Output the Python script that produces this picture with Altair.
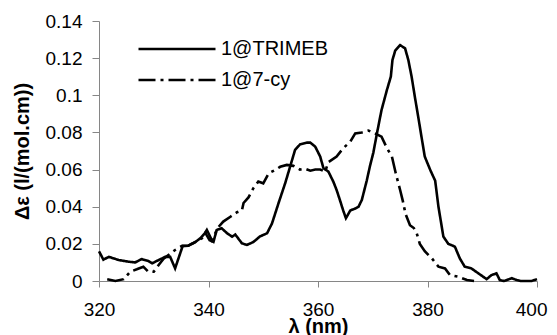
import altair as alt
import pandas as pd

# 1@TRIMEB (solid)
trimeb_nm = [320.0, 320.8, 321.8, 323.6, 325.4, 326.6, 327.8, 329.0, 329.7, 330.9,
             332.1, 333.0, 333.9, 335.3, 336.3, 337.6, 338.5, 339.4, 340.2, 340.9,
             341.5, 342.4, 343.4, 344.3, 344.9, 346.1, 347.0, 348.2, 349.4, 350.7,
             351.6, 352.8, 354.0, 354.9, 355.8, 356.7, 358.0, 358.6, 359.5, 360.4,
             361.0, 361.9, 362.8, 363.4, 364.0, 364.6, 365.1, 365.9, 366.8, 367.4,
             368.0, 368.9, 369.5, 370.1, 370.8, 371.6, 372.6, 373.3, 373.6, 374.1,
             375.0, 375.9, 376.5, 377.1, 377.7, 378.3, 378.9, 379.5, 380.5, 381.4,
             382.0, 382.9, 383.8, 385.0, 385.9, 386.8, 388.0, 389.3, 390.8, 391.7,
             392.6, 393.2, 394.0, 395.4, 396.3, 397.0, 399.0, 400.0]
trimeb_de = [0.016, 0.0115, 0.013, 0.0113, 0.0104, 0.010, 0.0118, 0.0108, 0.0095, 0.0113,
             0.013, 0.013, 0.0068, 0.019, 0.019, 0.021, 0.023, 0.026, 0.022, 0.021,
             0.0275, 0.0284, 0.0257, 0.0239, 0.025, 0.0203, 0.0194, 0.021, 0.024, 0.0257,
             0.031, 0.042, 0.0526, 0.0615, 0.0705, 0.0735, 0.0745, 0.0745, 0.0723, 0.067,
             0.0607, 0.0589, 0.0535, 0.049, 0.0436, 0.038, 0.0338, 0.038, 0.039, 0.040,
             0.0436, 0.054, 0.062, 0.069, 0.080, 0.092, 0.103, 0.110, 0.119, 0.124,
             0.127, 0.1253, 0.119, 0.110, 0.099, 0.0885, 0.0777, 0.067, 0.0598, 0.054,
             0.040, 0.0239, 0.020, 0.0185, 0.0122, 0.0077, 0.0068, 0.0041, 0.001, 0.0032,
             0.0041, 0.0005, 0.0, 0.0015, 0.0005, 0.0, 0.0, 0.001]

# 1@7-cy (dashed)
cy_nm = [321.5, 323.0, 324.5, 325.7, 326.9, 328.1, 329.0, 330.0, 330.9, 331.8,
         333.9, 335.1, 336.3, 337.6, 338.8, 339.7, 340.6, 341.8, 342.7, 344.0,
         345.2, 346.1, 346.4, 347.3, 348.2, 349.1, 350.0, 351.0, 352.2, 353.1,
         354.3, 355.5, 356.7, 357.6, 358.6, 359.5, 360.4, 361.3, 361.9, 363.4,
         364.6, 365.9, 366.8, 368.0, 369.2, 370.4, 371.6, 372.6, 373.5, 374.2,
         375.0, 375.5, 376.0, 376.8, 377.5, 378.0, 378.6, 379.5, 380.8, 382.0,
         383.2, 384.1, 385.6, 387.2, 388.5]
cy_de = [0.001, 0.0, 0.001, 0.005, 0.0063, 0.0077, 0.005, 0.005, 0.0086, 0.012,
         0.0167, 0.0188, 0.019, 0.021, 0.023, 0.0275, 0.022, 0.029, 0.032, 0.0346,
         0.037, 0.038, 0.042, 0.045, 0.050, 0.0535, 0.0526, 0.058, 0.0598, 0.0615,
         0.0625, 0.062, 0.060, 0.0605, 0.0594, 0.060, 0.060, 0.0589, 0.064, 0.067,
         0.0715, 0.075, 0.0795, 0.080, 0.081, 0.0795, 0.0777, 0.0715, 0.067, 0.058,
         0.049, 0.043, 0.036, 0.030, 0.0285, 0.026, 0.020, 0.016, 0.0122, 0.0077,
         0.0068, 0.0032, 0.0023, 0.0005, 0.0]

series_names = ["1@TRIMEB", "1@7-cy"]
x_ticks = [320, 340, 360, 380, 400]
y_ticks = [0, 0.02, 0.04, 0.06, 0.08, 0.1, 0.12, 0.14]

df = pd.concat([
    pd.DataFrame({"nm": trimeb_nm, "de": trimeb_de, "s": series_names[0]}),
    pd.DataFrame({"nm": cy_nm, "de": cy_de, "s": series_names[1]}),
], ignore_index=True)

FONT = "Liberation Sans"
AXIS_GRAY = "#868686"

chart = alt.Chart(df).mark_line(color="black", strokeWidth=2.6).encode(
    x=alt.X("nm:Q",
            scale=alt.Scale(domain=[320, 400], nice=False, zero=False),
            axis=alt.Axis(values=x_ticks, title="λ (nm)", grid=False,
                          domainColor=AXIS_GRAY, tickColor=AXIS_GRAY, tickSize=6,
                          labelFont=FONT, labelFontSize=19, labelColor="black",
                          labelPadding=13, labelFlush=False,
                          labelAlign=alt.condition("datum.value == 400", alt.value("right"), alt.value("center")),
                          labelOffset=alt.condition("datum.value == 400", alt.value(10), alt.value(0)),
                          titleFont=FONT, titleFontSize=20, titleFontWeight="bold",
                          titleColor="black", titleY=35, titleBaseline="top")),
    y=alt.Y("de:Q",
            scale=alt.Scale(domain=[0, 0.14], nice=False, zero=True),
            axis=alt.Axis(values=y_ticks, format="~g", title="Δε (l/(mol.cm))", grid=False,
                          domainColor=AXIS_GRAY, tickColor=AXIS_GRAY, tickSize=7,
                          labelFont=FONT, labelFontSize=19, labelColor="black",
                          labelPadding=10, labelFlush=False,
                          titleFont=FONT, titleFontSize=20, titleFontWeight="bold",
                          titleColor="black", titleX=-70.5, titleY=130,
                          titleBaseline="alphabetic", titleAngle=270)),
    strokeDash=alt.StrokeDash("s:N",
                              scale=alt.Scale(domain=series_names, range=[[1, 0], [17, 5, 3, 5]]),
                              legend=alt.Legend(title=None, orient="none", legendX=68, legendY=18,
                                                padding=0, symbolType="M-7.7,0H7.7", symbolSize=100,
                                                symbolStrokeWidth=2.6, symbolStrokeColor="black",
                                                labelFont=FONT, labelFontSize=20, labelColor="black",
                                                labelOffset=34, rowPadding=11)),
    detail="s:N",
).properties(
    width=438, height=260,
    padding={"left": 91, "top": 13, "right": 12, "bottom": 54},
    autosize=alt.AutoSizeParams(type="none"),
).configure_view(stroke=None)

chart.save("out.html", embed_options={"renderer": "svg", "actions": False})
